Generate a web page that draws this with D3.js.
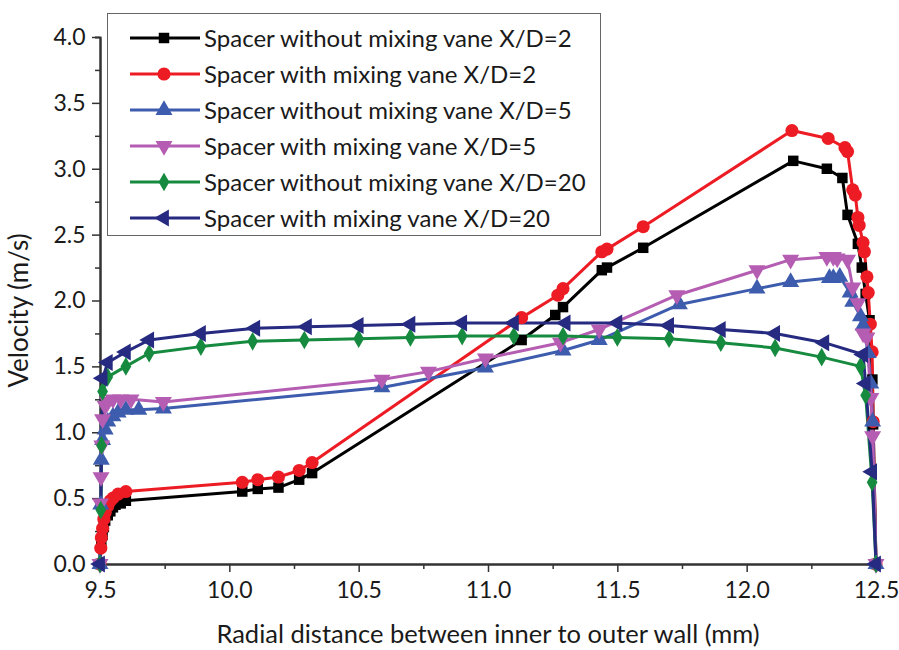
<!DOCTYPE html>
<html>
<head>
	<meta charset="utf-8">
	<title>Velocity profile</title>
	<script src="https://cdn.jsdelivr.net/npm/d3@7"></script>
	<style>
		body { margin: 0; background: #fff; }
		svg { display: block; font-family: Lato, "Open Sans", sans-serif; }
	</style>
</head>
<body>
	<div id="chart"></div>
	<script>

		// data

		const seriesNames = [
			"Spacer without mixing vane X/D=2",
			"Spacer with mixing vane X/D=2",
			"Spacer without mixing vane X/D=5",
			"Spacer with mixing vane X/D=5",
			"Spacer without mixing vane X/D=20",
			"Spacer with mixing vane X/D=20"
		];

		const noVane2X = [9.5, 9.505, 9.51, 9.515, 9.52, 9.53, 9.54, 9.55, 9.56, 9.58, 9.6, 10.05, 10.11, 10.19, 10.27, 10.32, 11.13, 11.26, 11.29, 11.44, 11.46, 11.6, 12.18, 12.31, 12.37, 12.39, 12.43, 12.445, 12.46, 12.475, 12.486, 12.489, 12.5];
		const noVane2Y = [0.0, 0.14, 0.22, 0.28, 0.33, 0.37, 0.40, 0.43, 0.45, 0.46, 0.48, 0.55, 0.57, 0.58, 0.64, 0.69, 1.70, 1.89, 1.95, 2.23, 2.25, 2.40, 3.06, 3.00, 2.93, 2.65, 2.43, 2.25, 2.05, 1.85, 1.40, 1.06, 0.0];

		const vane2X = [9.5, 9.503, 9.505, 9.51, 9.515, 9.52, 9.53, 9.54, 9.55, 9.57, 9.6, 10.05, 10.11, 10.19, 10.27, 10.32, 11.13, 11.27, 11.29, 11.44, 11.46, 11.6, 12.175, 12.315, 12.38, 12.39, 12.41, 12.42, 12.43, 12.435, 12.45, 12.455, 12.465, 12.47, 12.478, 12.485, 12.489, 12.5];
		const vane2Y = [0.0, 0.12, 0.2, 0.27, 0.34, 0.39, 0.44, 0.48, 0.5, 0.53, 0.55, 0.62, 0.64, 0.66, 0.71, 0.77, 1.87, 2.04, 2.09, 2.37, 2.39, 2.56, 3.29, 3.23, 3.16, 3.13, 2.84, 2.80, 2.63, 2.57, 2.44, 2.37, 2.18, 2.06, 1.82, 1.61, 1.08, 0.0];

		const noVane5X = [9.5, 9.503, 9.505, 9.51, 9.52, 9.53, 9.55, 9.57, 9.6, 9.65, 9.745, 10.59, 10.99, 11.29, 11.43, 11.74, 12.04, 12.17, 12.32, 12.335, 12.36, 12.40, 12.41, 12.44, 12.45, 12.47, 12.48, 12.487, 12.5];
		const noVane5Y = [0.0, 0.45, 0.79, 0.94, 1.02, 1.08, 1.12, 1.15, 1.17, 1.17, 1.18, 1.34, 1.49, 1.62, 1.70, 1.97, 2.09, 2.14, 2.17, 2.17, 2.18, 2.06, 1.99, 1.88, 1.81, 1.60, 1.37, 1.08, 0.0];

		const vane5X = [9.5, 9.502, 9.504, 9.507, 9.51, 9.52, 9.53, 9.55, 9.58, 9.62, 9.745, 10.59, 10.77, 10.99, 11.28, 11.43, 11.73, 12.04, 12.17, 12.31, 12.335, 12.35, 12.39, 12.41, 12.43, 12.45, 12.465, 12.48, 12.487, 12.5];
		const vane5Y = [0.0, 0.46, 0.66, 0.9, 1.1, 1.2, 1.23, 1.25, 1.25, 1.25, 1.23, 1.40, 1.46, 1.56, 1.68, 1.78, 2.04, 2.23, 2.31, 2.33, 2.33, 2.32, 2.31, 2.10, 1.98, 1.75, 1.72, 1.26, 0.97, 0.0];

		const noVane20X = [9.5, 9.503, 9.506, 9.51, 9.53, 9.6, 9.69, 9.89, 10.09, 10.29, 10.5, 10.7, 10.9, 11.1, 11.29, 11.5, 11.7, 11.9, 12.11, 12.29, 12.44, 12.46, 12.485, 12.5];
		const noVane20Y = [0.0, 0.41, 0.9, 1.31, 1.42, 1.50, 1.60, 1.65, 1.69, 1.70, 1.71, 1.72, 1.73, 1.73, 1.73, 1.72, 1.71, 1.68, 1.64, 1.57, 1.50, 1.28, 0.62, 0.0];

		const vane20X = [9.5, 9.51, 9.53, 9.6, 9.69, 9.89, 10.1, 10.3, 10.5, 10.7, 10.9, 11.1, 11.3, 11.5, 11.7, 11.9, 12.11, 12.3, 12.45, 12.46, 12.485, 12.5];
		const vane20Y = [0.0, 1.41, 1.53, 1.61, 1.70, 1.75, 1.79, 1.80, 1.81, 1.82, 1.83, 1.83, 1.83, 1.83, 1.81, 1.78, 1.75, 1.68, 1.59, 1.37, 0.70, 0.0];

		const xTicks = [9.5, 10.0, 10.5, 11.0, 11.5, 12.0, 12.5];
		const yTicks = [0.0, 0.5, 1.0, 1.5, 2.0, 2.5, 3.0, 3.5, 4.0];

		// styling

		const width = 899;
		const height = 650;
		const margin = { top: 37, right: 23, bottom: 86, left: 100 };
		const colors = ["#000000", "#ed1c24", "#3d5cad", "#b45db2", "#168a3f", "#262a80"];
		const shapes = ["square", "circle", "up", "down", "diamond", "left"];

		const series = [
			[noVane2X, noVane2Y], [vane2X, vane2Y], [noVane5X, noVane5Y],
			[vane5X, vane5Y], [noVane20X, noVane20Y], [vane20X, vane20Y]
		].map(([xs, ys], i) => ({
			name: seriesNames[i],
			color: colors[i],
			shape: shapes[i],
			values: xs.map((x, j) => ({ x: x, y: ys[j] }))
		}));

		const svg = d3.select("#chart").append("svg")
			.attr("width", width)
			.attr("height", height);

		const x = d3.scaleLinear()
			.domain([9.5, 12.5])
			.range([margin.left, width - margin.right]);
		const y = d3.scaleLinear()
			.domain([0, 4])
			.range([height - margin.bottom, margin.top]);

		// marker path generator
		function marker(shape) {
			if (shape === "square") return d3.symbol(d3.symbolSquare, 110)();
			if (shape === "circle") return d3.symbol(d3.symbolCircle, 135)();
			if (shape === "diamond") return d3.symbol(d3.symbolDiamond, 100)();
			return d3.symbol(d3.symbolTriangle, 125)();
		}
		function rotation(shape) {
			if (shape === "down") return 180;
			if (shape === "left") return -90;
			return 0;
		}

		// axes
		const minorX = d3.range(9.75, 12.5, 0.5);
		const minorY = d3.range(0.25, 4, 0.5);

		const xAxis = svg.append("g")
			.attr("transform", `translate(0,${y(0)})`);
		xAxis.call(d3.axisBottom(x).tickValues(minorX).tickSize(5).tickFormat(""));
		xAxis.append("g").call(d3.axisBottom(x).tickValues(xTicks).tickSize(8).tickSizeOuter(0).tickFormat(d3.format(".1f")));

		const yAxis = svg.append("g")
			.attr("transform", `translate(${x(9.5)},0)`);
		yAxis.call(d3.axisLeft(y).tickValues(minorY).tickSize(5).tickFormat(""));
		yAxis.append("g").call(d3.axisLeft(y).tickValues(yTicks).tickSize(8).tickSizeOuter(0).tickFormat(d3.format(".1f")));

		svg.selectAll(".domain").attr("stroke", "#333").attr("stroke-width", 2);
		svg.selectAll(".tick line").attr("stroke", "#333").attr("stroke-width", 1.5);
		svg.selectAll(".tick text")
			.attr("font-size", 23)
			.attr("fill", "#1a1a1a")
			.attr("font-family", "Lato, sans-serif");
		xAxis.selectAll(".tick text").attr("dy", "1.0em");
		yAxis.selectAll(".tick text").attr("dx", "-0.15em");

		// axis titles
		svg.append("text")
			.attr("x", (x(9.5) + x(12.5)) / 2)
			.attr("y", 643)
			.attr("text-anchor", "middle")
			.attr("font-size", 25.5)
			.attr("fill", "#1a1a1a")
			.text("Radial distance between inner to outer wall (mm)");

		svg.append("text")
			.attr("transform", `translate(28,${y(2) + 10}) rotate(-90)`)
			.attr("text-anchor", "middle")
			.attr("font-size", 26)
			.attr("fill", "#1a1a1a")
			.text("Velocity (m/s)");

		// lines and markers
		const line = d3.line().x(d => x(d.x)).y(d => y(d.y));

		const plot = svg.append("g");
		series.forEach(s => {
			plot.append("path")
				.datum(s.values)
				.attr("fill", "none")
				.attr("stroke", s.color)
				.attr("stroke-width", 3)
				.attr("stroke-linejoin", "round")
				.attr("d", line);
		});
		series.forEach(s => {
			plot.selectAll(null)
				.data(s.values)
				.join("path")
				.attr("d", marker(s.shape))
				.attr("fill", s.color)
				.attr("transform", d => `translate(${x(d.x)},${y(d.y)}) rotate(${rotation(s.shape)})`);
		});

		// legend
		const legend = svg.append("g");
		legend.append("rect")
			.attr("x", 107.5).attr("y", 13.5)
			.attr("width", 493).attr("height", 222)
			.attr("fill", "#fff")
			.attr("stroke", "#666")
			.attr("stroke-width", 1);

		series.forEach((s, i) => {
			const ly = 38 + i * 36;
			legend.append("line")
				.attr("x1", 130).attr("x2", 200)
				.attr("y1", ly).attr("y2", ly)
				.attr("stroke", s.color)
				.attr("stroke-width", 3);
			legend.append("path")
				.attr("d", marker(s.shape))
				.attr("fill", s.color)
				.attr("transform", `translate(164,${ly}) rotate(${rotation(s.shape)})`);
			legend.append("text")
				.attr("x", 204).attr("y", ly)
				.attr("dy", "0.36em")
				.attr("font-size", 24)
				.attr("fill", "#1a1a1a")
				.text(s.name);
		});

	</script>
</body>
</html>
